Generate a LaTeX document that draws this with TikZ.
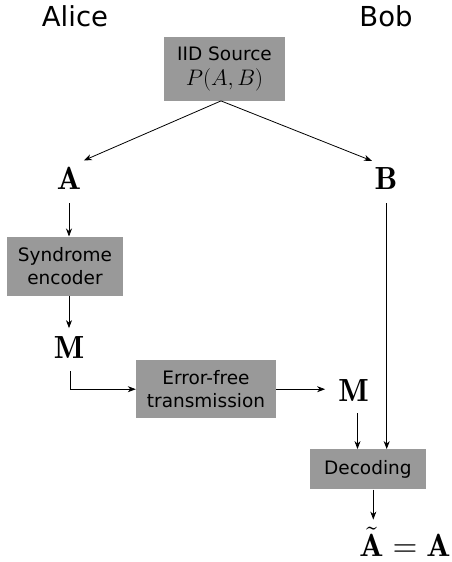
\documentclass[tikz,border=0pt]{standalone}
\usepackage{graphicx}
\usepackage{fontspec}
\newfontfamily\djv{DejaVu Sans}
\usetikzlibrary{arrows.meta,calc}
\definecolor{boxgray}{RGB}{153,153,153}
\newcommand{\mysym}[1]{\scalebox{3.2}{$#1$}}
\begin{document}
\begin{tikzpicture}[x=1pt,y=-1pt,
  conn/.style={line width=0.8pt,-{Stealth[length=8pt,width=6pt,inset=2.5pt]}},
  gbox/.style={fill=boxgray,draw=none,inner sep=0pt,align=center,
    font=\djv\fontsize{18.5}{23}\selectfont},
  who/.style={font=\djv\fontsize{27.5}{32}\selectfont,anchor=base,inner sep=0pt},
  sym/.style={anchor=base,inner xsep=2.5pt,inner ysep=6pt}]
\useasboundingbox (0,0) rectangle (452,562);
\node[who] (alice) at (75,26) {Alice};
\node[who] (bob) at (386,26) {Bob};
\node[gbox,minimum width=121pt,minimum height=64pt] (src) at (224.5,68.7)
  {IID Source\\[2pt]\scalebox{1.3}{$P(A,B)$}};
\node[sym] (A) at (69,189) {\mysym{\mathbf{A}}};
\node[sym] (B) at (386,189) {\mysym{\mathbf{B}}};
\node[gbox,minimum width=115.4pt,minimum height=59pt] (syn) at (65,266.2) {Syndrome\\encoder};
\node[sym,inner ysep=8pt] (M1) at (69,358.3) {\mysym{\mathbf{M}}};
\node[gbox,minimum width=140pt,minimum height=58.3pt] (err) at (206,389.2) {Error-free\\transmission};
\node[sym,inner ysep=8pt,inner xsep=4pt] (M2) at (353.5,401.6) {\mysym{\mathbf{M}}};
\node[gbox,minimum width=115.7pt,minimum height=40pt] (dec) at (367.9,469.3) {Decoding};
\node[sym,inner sep=2pt] (res) at (405,556.7) {\mysym{\tilde{\mathbf{A}}=\mathbf{A}}};
\draw[conn] ([xshift=-3.5pt]src.south) -- (A.north east);
\draw[conn] ([xshift=-3.5pt]src.south) -- (B.north west);
\draw[conn,shorten <=8pt] (A.south) -- (A.south |- syn.north);
\draw[conn] (M1.north |- syn.south) -- (M1.north);
\draw[conn,shorten <=4.5pt] ([xshift=1pt]M1.south) |- (err.west);
\draw[conn,shorten >=9pt] (err.east) -- (M2.west |- err.east);
\draw[conn,shorten <=3.4pt] ([xshift=4pt]M2.south) -- ([xshift=4pt]M2.south |- dec.north);
\draw[conn,shorten <=8pt] ([xshift=0.7pt]B.south) -- ([xshift=0.7pt]B.south |- dec.north);
\draw[conn] ([xshift=5.4pt]dec.south) -- ($([xshift=5.4pt]dec.south |- res.north)+(0,-5)$);
\end{tikzpicture}
\end{document}
